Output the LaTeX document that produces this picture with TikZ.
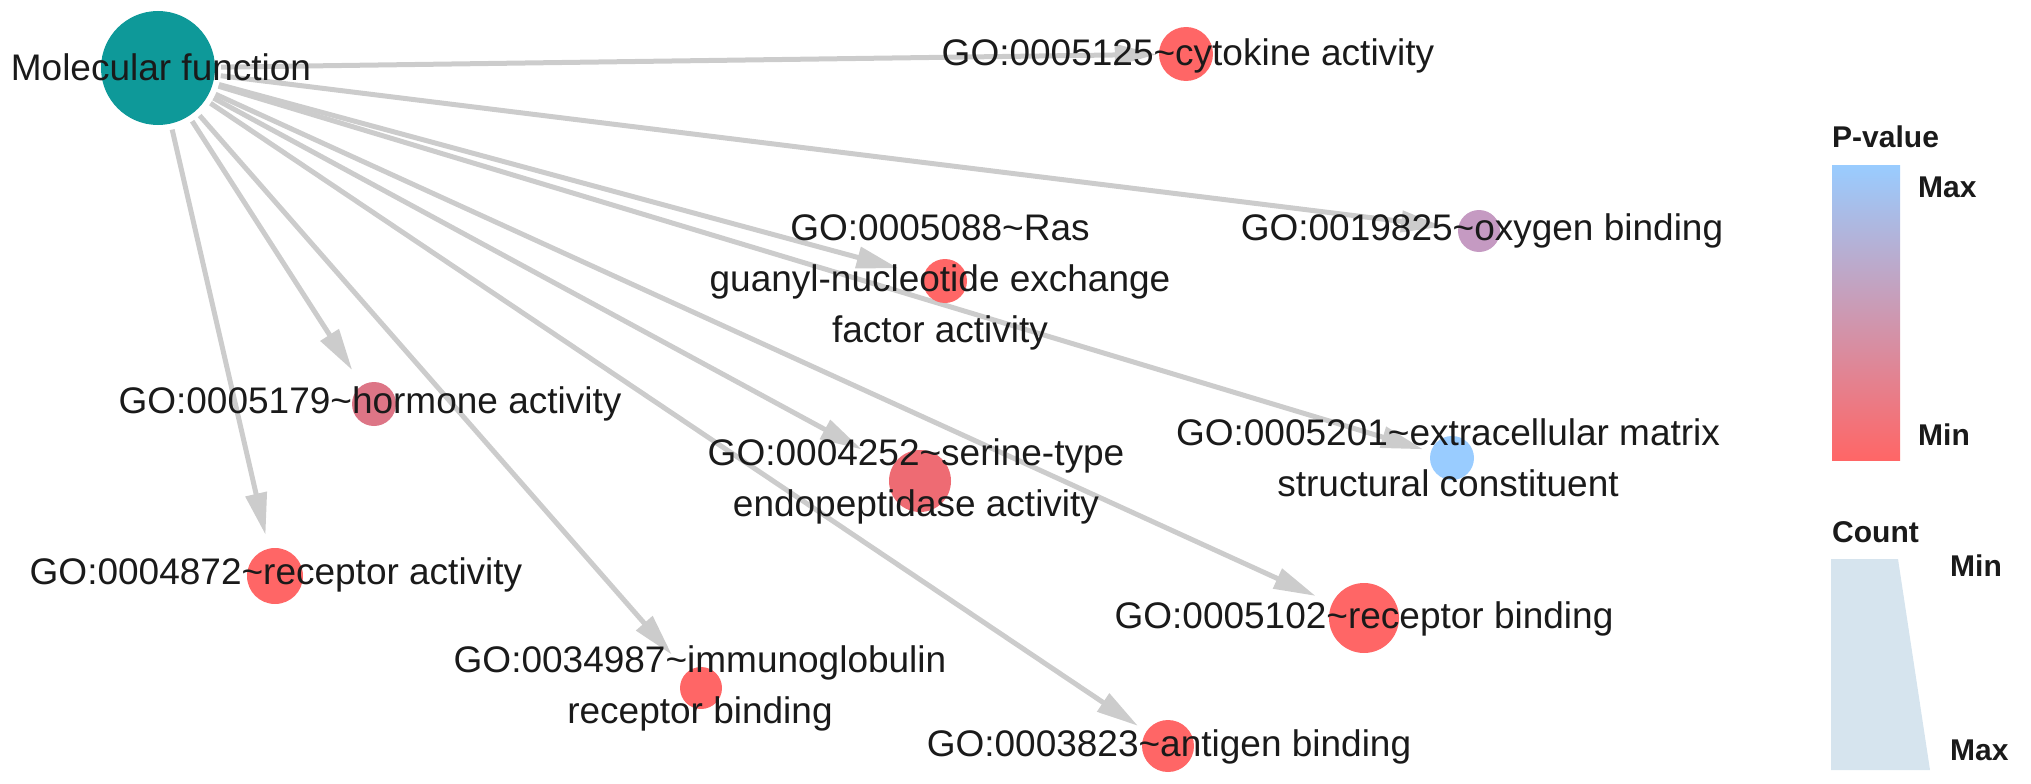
\documentclass[tikz,border=0pt]{standalone}
\usepackage{fontspec}
\setmainfont{Liberation Sans}
\usetikzlibrary{arrows.meta}
\pgfdeclarelayer{bg}
\pgfsetlayers{bg,main}
\definecolor{hubteal}{HTML}{0E9999}
\definecolor{gored}{HTML}{FF6666}
\definecolor{gohorm}{HTML}{DD7586}
\definecolor{goser}{HTML}{EE6B73}
\definecolor{gooxy}{HTML}{C59AC2}
\definecolor{goblue}{HTML}{99CCFF}
\definecolor{edgegray}{HTML}{CCCCCC}
\definecolor{countfill}{HTML}{D6E4EE}
\definecolor{txt}{HTML}{1A1A1A}
\begin{document}
\begin{tikzpicture}[x=1pt,y=-1pt,
  gonode/.style={circle, inner sep=0pt, draw=none, fill=#1},
  lbl/.style={font=\fontsize{37}{51}\selectfont, text=txt, align=center, inner sep=0pt},
  edge/.style={draw=edgegray, line width=5pt, -{Triangle[length=42pt,width=21pt]}, shorten <=6pt},
  leg/.style={font=\bfseries\fontsize{30}{36}\selectfont, text=txt, anchor=west, inner sep=0pt}]
\useasboundingbox (0,0) rectangle (2031,784);
% nodes (circles)
\node[gonode=hubteal, minimum size=114pt] (hub) at (158,68) {};
\node[gonode=gored, minimum size=54pt] (cyto) at (1186,54) {};
\node[gonode=gooxy, minimum size=42pt] (oxy) at (1479,231) {};
\node[gonode=gored, minimum size=44pt] (ras) at (945,281) {};
\node[gonode=gohorm, minimum size=44pt] (horm) at (374,404) {};
\node[gonode=goblue, minimum size=44pt] (extra) at (1452,458) {};
\node[gonode=goser, minimum size=62pt] (ser) at (920,481) {};
\node[gonode=gored, minimum size=56pt] (recact) at (275,576) {};
\node[gonode=gored, minimum size=70pt] (recbind) at (1364,618) {};
\node[gonode=gored, minimum size=42pt] (immuno) at (701,688) {};
\node[gonode=gored, minimum size=52pt] (antigen) at (1168,746) {};
% labels
\node[lbl] (lhub) at (161,67) {Molecular function};
\node[lbl] (lcyto) at (1188,56) {GO:0005125\textasciitilde cytokine activity};
\node[lbl] (loxy) at (1482,231) {GO:0019825\textasciitilde oxygen binding};
\node[lbl] (lras) at (940,282) {GO:0005088\textasciitilde Ras\\guanyl-nucleotide exchange\\factor activity};
\node[lbl] (lhorm) at (370,404) {GO:0005179\textasciitilde hormone activity};
\node[lbl] (lextra) at (1448,458) {GO:0005201\textasciitilde extracellular matrix\\structural constituent};
\node[lbl] (lser) at (916,481) {GO:0004252\textasciitilde serine-type\\endopeptidase activity};
\node[lbl] (lrecact) at (276,575) {GO:0004872\textasciitilde receptor activity};
\node[lbl] (lrecbind) at (1364,619) {GO:0005102\textasciitilde receptor binding};
\node[lbl] (limmuno) at (700,688) {GO:0034987\textasciitilde immunoglobulin\\receptor binding};
\node[lbl] (lantigen) at (1169,747) {GO:0003823\textasciitilde antigen binding};
% edges
\begin{pgfonlayer}{bg}
\draw[edge, shorten >=2pt] (hub) -- (cyto);
\draw[edge, shorten >=15pt] (hub) -- (oxy);
\draw[edge, shorten >=26pt] (hub) -- (ras);
\draw[edge, shorten >=18pt] (hub) -- (horm);
\draw[edge, shorten >=8pt] (hub) -- (extra);
\draw[edge, shorten >=35pt] (hub) -- (ser);
\draw[edge, shorten >=14pt] (hub) -- (recact);
\draw[edge, shorten >=18pt] (hub) -- (recbind);
\draw[edge, shorten >=23pt] (hub) -- (immuno);
\draw[edge, shorten >=10pt] (hub) -- (antigen);
\end{pgfonlayer}
% legend
\node[leg] (pvt) at (1832,137) {P-value};
\shade[top color=goblue, bottom color=gored] (1832,165) rectangle (1900,460);
\node[leg] (pmax) at (1918,187) {Max};
\node[leg] (pmin) at (1918,435) {Min};
\node[leg] (cnt) at (1832,532) {Count};
\fill[countfill] (1831,559) -- (1898,559) -- (1930,770) -- (1831,770) -- cycle;
\node[leg] (cmin) at (1950,566) {Min};
\node[leg] (cmax) at (1950,750) {Max};
\end{tikzpicture}
\end{document}
